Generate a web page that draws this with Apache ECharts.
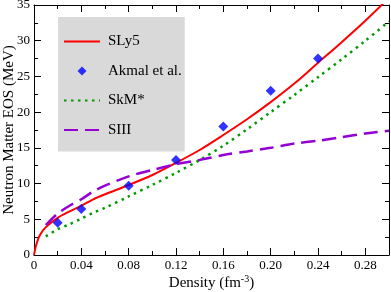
<!DOCTYPE html>
<html>
<head>
<meta charset="utf-8">
<script src="https://cdn.jsdelivr.net/npm/echarts@6/dist/echarts.min.js"></script>
<style>html,body{margin:0;padding:0;background:#fff;}#c{width:391px;height:292px;}</style>
</head>
<body>
<div id="c"></div>
<script>
// Data
var sly5X = [0, 0.002, 0.005, 0.01, 0.02, 0.03, 0.04, 0.05, 0.06, 0.08, 0.10, 0.12, 0.14, 0.16, 0.18, 0.20, 0.22, 0.24, 0.26, 0.28, 0.30];
var sly5Y = [0, 1.5, 2.8, 3.9, 5.2, 6.1, 6.9, 7.8, 8.5, 9.8, 11.2, 12.9, 14.7, 16.8, 19.0, 21.4, 24.0, 26.9, 29.8, 32.8, 36.0];

var akmalX = [0.02, 0.04, 0.08, 0.12, 0.16, 0.20, 0.24];
var akmalY = [4.5, 6.45, 9.7, 13.3, 18.0, 23.0, 27.5];

var skmX = [0.01, 0.02, 0.03, 0.04, 0.05, 0.06, 0.08, 0.10, 0.12, 0.14, 0.16, 0.18, 0.20, 0.22, 0.24, 0.26, 0.28, 0.30];
var skmY = [2.6, 3.6, 4.3, 5.1, 5.9, 6.6, 8.2, 9.8, 11.5, 13.3, 15.3, 17.6, 20.0, 22.4, 24.9, 27.4, 30.0, 32.7];

var siiiX = [0.01, 0.02, 0.03, 0.04, 0.05, 0.06, 0.08, 0.10, 0.12, 0.14, 0.16, 0.18, 0.20, 0.22, 0.24, 0.26, 0.28, 0.30];
var siiiY = [4.2, 5.8, 6.9, 7.8, 8.9, 9.7, 11.0, 11.9, 12.7, 13.3, 14.0, 14.5, 15.0, 15.6, 16.0, 16.5, 17.0, 17.4];

var seriesNames = ['SLy5', 'Akmal et al.', 'SkM*', 'SIII'];
var xTitle = 'Density (fm{sup|-3})';
var yTitle = 'Neutron Matter EOS (MeV)';

function zip(xs, ys) { return xs.map(function (x, i) { return [x, ys[i]]; }); }

var FONT = "'Liberation Serif', 'Times New Roman', serif";
var chart = echarts.init(document.getElementById('c'), null, {renderer: 'canvas'});

function tickAxisX(pos, interval, len, showLine) {
  return {
    type: 'value', position: pos, min: 0, max: 0.3, interval: interval,
    axisLine: {show: showLine, onZero: false, lineStyle: {color: '#000', width: 1}},
    axisTick: {show: true, inside: true, length: len, lineStyle: {color: '#000', width: 1}},
    axisLabel: {show: false}, splitLine: {show: false}
  };
}
function tickAxisY(pos, interval, len, showLine) {
  return {
    type: 'value', position: pos, min: 0, max: 35, interval: interval,
    axisLine: {show: showLine, onZero: false, lineStyle: {color: '#000', width: 1}},
    axisTick: {show: true, inside: true, length: len, lineStyle: {color: '#000', width: 1}},
    axisLabel: {show: false}, splitLine: {show: false}
  };
}

var xMain = tickAxisX('bottom', 0.04, 7, true);
xMain.axisLabel = {
  show: true, margin: 4, color: '#000', fontFamily: FONT, fontSize: 13,
  formatter: function (v) { if (v > 0.29) return ''; return v === 0 ? '0' : v.toFixed(2); }
};
xMain.name = xTitle;
xMain.nameLocation = 'middle';
xMain.nameGap = 19;
xMain.nameMoveOverlap = false;
xMain.nameTextStyle = {
  color: '#000', fontFamily: FONT, fontSize: 15, lineHeight: 18,
  rich: {sup: {fontFamily: FONT, fontSize: 10, color: '#000', verticalAlign: 'top', lineHeight: 10, padding: [0, 0, 6, 0]}}
};

var yMain = tickAxisY('left', 5, 7, true);
yMain.axisLabel = {show: true, margin: 4, color: '#000', fontFamily: FONT, fontSize: 13};
yMain.name = yTitle;
yMain.nameLocation = 'middle';
yMain.nameGap = 17;
yMain.nameMoveOverlap = false;
yMain.nameRotate = 90;
yMain.nameTextStyle = {color: '#000', fontFamily: FONT, fontSize: 15};

var option = {
  animation: false,
  backgroundColor: '#fff',
  textStyle: {fontFamily: FONT},
  grid: {left: 34, right: 2, top: 5, bottom: 37, containLabel: false, outerBoundsMode: 'none'},
  xAxis: [xMain, tickAxisX('bottom', 0.02, 4, false), tickAxisX('top', 0.04, 7, true), tickAxisX('top', 0.02, 4, false)],
  yAxis: [yMain, tickAxisY('left', 2.5, 4, false), tickAxisY('right', 5, 7, true), tickAxisY('right', 2.5, 4, false)],
  legend: {
    show: true, orient: 'vertical', left: 58, top: 17,
    backgroundColor: '#d9d9d9', borderRadius: 0,
    padding: [17, 3, 14, 5], itemGap: 14.5, itemWidth: 36, itemHeight: 9,
    textStyle: {color: '#000', fontFamily: FONT, fontSize: 15, padding: [0, 0, 0, 3]},
    data: [
      {name: seriesNames[0], itemStyle: {opacity: 0}},
      {name: seriesNames[1], icon: 'path://M5 0L10 5L5 10L0 5Z'},
      {name: seriesNames[2], itemStyle: {opacity: 0}},
      {name: seriesNames[3], itemStyle: {opacity: 0}}
    ]
  },
  series: [
    {
      name: seriesNames[0], type: 'line', data: zip(sly5X, sly5Y),
      smooth: 0.3, showSymbol: false, symbol: 'none',
      lineStyle: {color: '#ff0000', width: 2}, itemStyle: {color: '#ff0000'}, z: 3
    },
    {
      name: seriesNames[1], type: 'scatter', data: zip(akmalX, akmalY),
      symbol: 'diamond', symbolSize: 10, itemStyle: {color: '#0000ff'}, z: 6
    },
    {
      name: seriesNames[2], type: 'line', data: zip(skmX, skmY),
      smooth: 0.3, showSymbol: false, symbol: 'none',
      lineStyle: {color: '#009a00', width: 2.5, type: [2.5, 4.5]}, itemStyle: {color: '#009a00'}, z: 4
    },
    {
      name: seriesNames[3], type: 'line', data: zip(siiiX, siiiY),
      smooth: 0.3, showSymbol: false, symbol: 'none',
      lineStyle: {color: '#9400d3', width: 2.5, type: [14, 7]}, itemStyle: {color: '#9400d3'}, z: 5
    }
  ]
};
chart.setOption(option);
</script>
</body>
</html>
